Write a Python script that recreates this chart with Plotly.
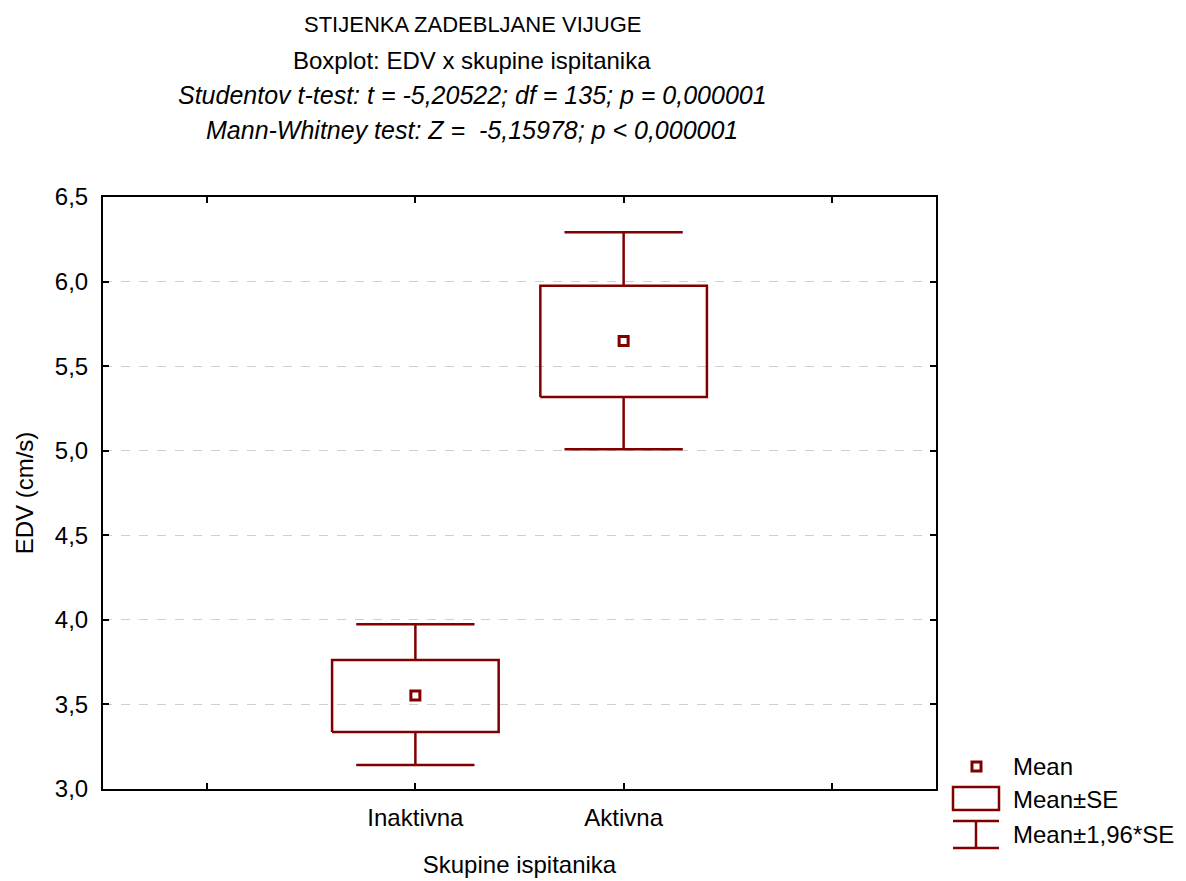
import plotly.graph_objects as go

# Podaci (očitani s grafikona)
skupine = ["Inaktivna", "Aktivna"]
pozicije = [1, 2]
mean_vals = [3.553, 5.648]
se_low = [3.337, 5.318]
se_high = [3.763, 5.975]
ci_low = [3.142, 5.009]
ci_high = [3.974, 6.292]

naslovi = [
    "STIJENKA ZADEBLJANE VIJUGE",
    "Boxplot: EDV x skupine ispitanika",
    "<i>Studentov t-test: t = -5,20522; df = 135; p = 0,000001</i>",
    "<i>Mann-Whitney test: Z =  -5,15978; p < 0,000001</i>",
]
velicine_naslova = [22, 24, 25, 25]

BOJA = "#800000"
FONT = "Liberation Sans, Arial, sans-serif"
FS = 24
BOX_HW = 0.4     # pola širine kutije (u jedinicama kategorije)
CAP_HW = 0.284   # pola širine "kape" whiskera
OFF = 8          # body margin stranice

fig = go.Figure()

# kutije Mean±SE
bx, by = [], []
for p, lo, hi in zip(pozicije, se_low, se_high):
    bx += [p - BOX_HW, p + BOX_HW, p + BOX_HW, p - BOX_HW, p - BOX_HW, None]
    by += [lo, lo, hi, hi, lo, None]
fig.add_trace(go.Scatter(x=bx, y=by, mode="lines", line=dict(color=BOJA, width=2.5),
                         showlegend=False, hoverinfo="skip"))

# whiskeri Mean±1,96*SE
wx, wy = [], []
for p, lo, hi, blo, bhi in zip(pozicije, ci_low, ci_high, se_low, se_high):
    wx += [p, p, None, p, p, None]
    wy += [bhi, hi, None, blo, lo, None]
    wx += [p - CAP_HW, p + CAP_HW, None, p - CAP_HW, p + CAP_HW, None]
    wy += [hi, hi, None, lo, lo, None]
fig.add_trace(go.Scatter(x=wx, y=wy, mode="lines", line=dict(color=BOJA, width=2.5),
                         showlegend=False, hoverinfo="skip"))

# srednje vrijednosti
fig.add_trace(go.Scatter(
    x=pozicije, y=mean_vals, mode="markers",
    marker=dict(symbol="square-open", size=9, color=BOJA, line=dict(color=BOJA, width=3)),
    showlegend=False,
))

# pretvorba piksela slike u paper koordinate (područje grafa 103..936 x 197..789)
def px_x(px):
    return (px - 103) / 833

def px_y(py):
    return (789 - py) / 592

# naslov (4 reda)
for txt, py, fs in zip(naslovi, [25, 60, 95, 130], velicine_naslova):
    fig.add_annotation(
        text=txt, x=px_x(472), xref="paper", xanchor="center",
        y=px_y(py), yref="paper", yanchor="middle",
        showarrow=False, font=dict(size=fs, color="black", family=FONT),
    )

# ručna legenda
legenda = [("Mean", 766), ("Mean±SE", 799), ("Mean±1,96*SE", 834)]
for txt, py in legenda:
    fig.add_annotation(text=txt, x=px_x(1011), y=px_y(py), xref="paper", yref="paper",
                       xanchor="left", yanchor="middle", showarrow=False,
                       font=dict(size=FS, color="black", family=FONT))

# ikona Mean
fig.add_shape(type="rect", xref="paper", yref="paper",
              x0=px_x(972), x1=px_x(981), y0=px_y(771), y1=px_y(762),
              line=dict(color=BOJA, width=3), fillcolor="white")
# ikona Mean±SE
fig.add_shape(type="rect", xref="paper", yref="paper",
              x0=px_x(953), x1=px_x(999), y0=px_y(810), y1=px_y(787),
              line=dict(color=BOJA, width=2.5), fillcolor="rgba(0,0,0,0)")
# ikona Mean±1,96*SE
for (xa, ya, xb, yb) in [(953, 821, 999, 821), (953, 848, 999, 848), (976, 821, 976, 848)]:
    fig.add_shape(type="line", xref="paper", yref="paper",
                  x0=px_x(xa), y0=px_y(ya), x1=px_x(xb), y1=px_y(yb),
                  line=dict(color=BOJA, width=2.5))

fig.update_xaxes(
    range=[-0.5, 3.5],
    tickmode="array", tickvals=[0, 1, 2, 3], ticktext=["", skupine[0], skupine[1], ""],
    ticks="inside", ticklen=6, tickwidth=1.5, tickcolor="black",
    showline=True, linewidth=2, linecolor="black", mirror="ticks",
    showgrid=False, zeroline=False,
    tickfont=dict(size=FS, color="black", family=FONT),
    ticklabelstandoff=6,
    title=dict(text="Skupine ispitanika", font=dict(size=FS, color="black", family=FONT), standoff=26),
)
fig.update_yaxes(
    range=[3.0, 6.5], dtick=0.5, tick0=3.0, tickformat=".1f",
    ticks="inside", ticklen=6, tickwidth=1.5, tickcolor="black",
    showline=True, linewidth=2, linecolor="black", mirror="ticks",
    showgrid=True, gridcolor="#cfcfcf", griddash="dash", gridwidth=1,
    zeroline=False,
    tickfont=dict(size=FS, color="black", family=FONT),
    ticklabelstandoff=8,
    title=dict(text="EDV (cm/s)", font=dict(size=FS, color="black", family=FONT), standoff=14),
)

fig.update_layout(
    width=1186, height=881,
    margin=dict(l=103 - OFF, r=1186 - 936 + OFF, t=197 - OFF, b=881 - 789 + OFF),
    paper_bgcolor="white", plot_bgcolor="white",
    separators=",.",
    font=dict(family=FONT, color="black"),
    showlegend=False,
)

fig.write_html("out.html")
